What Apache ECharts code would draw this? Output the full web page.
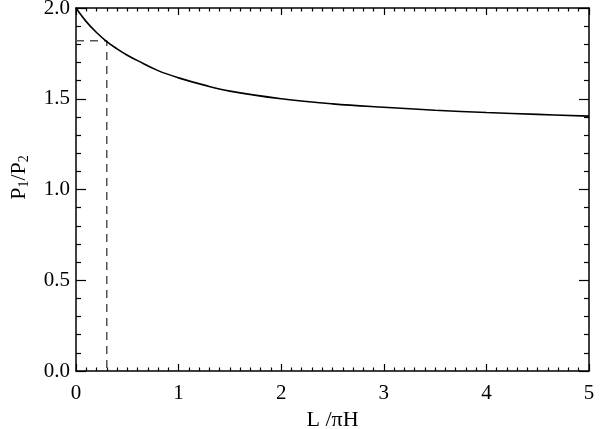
<!DOCTYPE html>
<html>
<head>
<meta charset="utf-8">
<script src="https://cdn.jsdelivr.net/npm/echarts@6/dist/echarts.min.js"></script>
<style>html,body{margin:0;padding:0;background:#fff}#c{width:600px;height:429px}</style>
</head>
<body>
<div id="c"></div>
<script>
// Data
const lValues = [0, 0.1, 0.2, 0.3, 0.4, 0.5, 0.6, 0.8, 1.0, 1.25, 1.5, 2.0, 2.5, 3.0, 3.5, 4.0, 4.5, 5.0];
const ratioValues = [2.0, 1.925, 1.865, 1.815, 1.775, 1.74, 1.71, 1.655, 1.615, 1.575, 1.542, 1.50, 1.472, 1.453, 1.437, 1.424, 1.414, 1.404];
const markerL = 0.3;
const markerRatio = 1.82;
const xTicks = [0, 1, 2, 3, 4, 5];
const yTicks = [0.0, 0.5, 1.0, 1.5, 2.0];

const curve = lValues.map((l, i) => [l, ratioValues[i]]);
const guide = [[0, markerRatio], [markerL, markerRatio], [markerL, 0]];

const font = '"Liberation Serif", "DejaVu Serif", serif';
const axisLine = {show: true, onZero: false, lineStyle: {color: '#000', width: 1.5}};

function xAx(pos, labels) {
  return {
    type: 'value', position: pos, min: xTicks[0], max: xTicks[xTicks.length - 1], interval: 1,
    axisLine: axisLine,
    axisTick: {show: true, inside: true, length: 7, lineStyle: {color: '#000', width: 1.2}},
    minorTick: {show: true, splitNumber: 10, length: 3.5, lineStyle: {color: '#000', width: 1.2}},
    splitLine: {show: false}, minorSplitLine: {show: false},
    axisLabel: {show: labels, fontFamily: font, fontSize: 21, color: '#000', margin: 12},
    name: labels ? 'L /πH' : '', nameLocation: 'middle', nameGap: 30,
    nameTextStyle: {fontFamily: font, fontSize: 22, color: '#000'}
  };
}
function yAx(pos, labels) {
  return {
    type: 'value', position: pos, min: yTicks[0], max: yTicks[yTicks.length - 1], interval: 0.5,
    axisLine: axisLine,
    axisTick: {show: true, inside: true, length: 10, lineStyle: {color: '#000', width: 1.2}},
    minorTick: {show: true, splitNumber: 5, length: 5, lineStyle: {color: '#000', width: 1.2}},
    splitLine: {show: false}, minorSplitLine: {show: false},
    axisLabel: {show: labels, fontFamily: font, fontSize: 21, color: '#000', margin: 6,
      formatter: v => v.toFixed(1)},
    name: labels ? 'P{s|1}/P{s|2}' : '', nameLocation: 'middle', nameGap: 45, nameRotate: 90,
    nameTextStyle: {fontFamily: font, fontSize: 22, color: '#000', padding: [0, 0, 0, 24],
      rich: {s: {fontFamily: font, fontSize: 14, color: '#000', verticalAlign: 'bottom', padding: [9, 0, 0, 0]}}}
  };
}

const chart = echarts.init(document.getElementById('c'), null, {renderer: 'canvas'});
chart.setOption({
  backgroundColor: '#fff',
  animation: false,
  grid: {left: 76, right: 11, top: 8, bottom: 58, containLabel: false, outerBoundsMode: 'none'},
  xAxis: [xAx('bottom', true), xAx('top', false)],
  yAxis: [yAx('left', true), yAx('right', false)],
  series: [
    {type: 'line', data: curve, smooth: 0.4, showSymbol: false, symbol: 'none',
     lineStyle: {color: '#000', width: 1.6}, xAxisIndex: 0, yAxisIndex: 0, z: 3},
    {type: 'line', data: guide, showSymbol: false, symbol: 'none',
     lineStyle: {color: '#555', width: 1.5, type: [8, 6]}, xAxisIndex: 0, yAxisIndex: 0, z: 2}
  ]
});
</script>
</body>
</html>
